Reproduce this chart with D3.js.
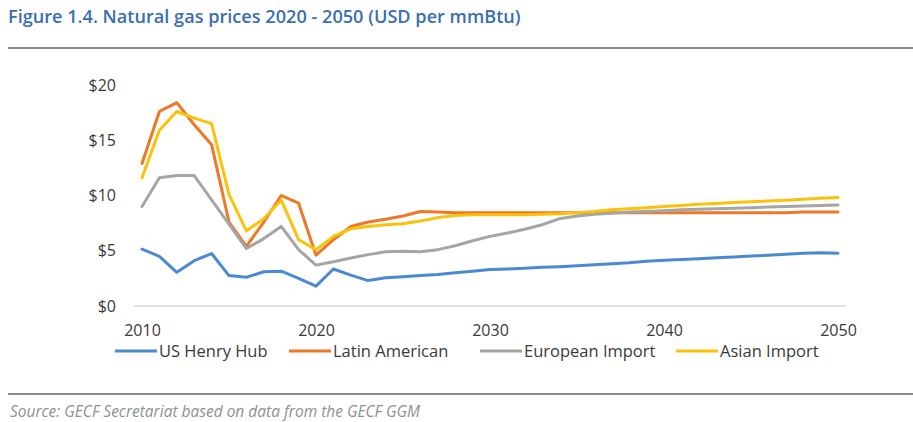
<!DOCTYPE html>
<html>
<head>
<meta charset="utf-8">
<script src="https://cdn.jsdelivr.net/npm/d3@7"></script>
<style>
  html, body { margin: 0; padding: 0; background: #fff; }
  svg { display: block; }
</style>
</head>
<body>
<svg id="chart" width="913" height="422"></svg>
<script>
// Natural gas price outlook, USD per mmBtu, yearly 2010-2050
const years = d3.range(2010, 2051);

const usHenryHub = [
  5.15, 4.5, 3.05, 4.1, 4.75, 2.75, 2.6, 3.1, 3.15, 2.5,
  1.8, 3.35, 2.8, 2.3, 2.55, 2.65, 2.75, 2.85, 3.0, 3.15,
  3.3, 3.35, 3.42, 3.5, 3.56, 3.65, 3.74, 3.83, 3.92, 4.05,
  4.15, 4.2, 4.28, 4.36, 4.44, 4.52, 4.6, 4.68, 4.78, 4.82, 4.78
];
const latinAmerican = [
  12.9, 17.6, 18.4, 16.4, 14.6, 7.6, 5.4, 7.6, 10.0, 9.3,
  4.6, 6.0, 7.2, 7.6, 7.85, 8.15, 8.55, 8.5, 8.45, 8.45,
  8.45, 8.45, 8.45, 8.45, 8.45, 8.45, 8.45, 8.45, 8.45, 8.45,
  8.45, 8.45, 8.45, 8.45, 8.45, 8.45, 8.45, 8.45, 8.5, 8.5, 8.5
];
const europeanImport = [
  9.0, 11.6, 11.8, 11.8, 9.6, 7.4, 5.2, 6.1, 7.2, 5.1,
  3.7, 4.0, 4.35, 4.65, 4.9, 4.95, 4.9, 5.1, 5.45, 5.9,
  6.3, 6.6, 6.95, 7.35, 7.9, 8.15, 8.3, 8.4, 8.5, 8.55,
  8.62, 8.7, 8.75, 8.8, 8.85, 8.9, 8.95, 9.0, 9.05, 9.1, 9.15
];
const asianImport = [
  11.6, 15.9, 17.6, 17.0, 16.5, 10.1, 6.8, 7.9, 9.6, 6.0,
  5.1, 6.3, 7.0, 7.2, 7.35, 7.45, 7.7, 8.0, 8.2, 8.25,
  8.25, 8.25, 8.25, 8.3, 8.35, 8.45, 8.55, 8.7, 8.8, 8.9,
  9.0, 9.1, 9.2, 9.28, 9.36, 9.44, 9.5, 9.58, 9.66, 9.75, 9.82
];

const seriesNames = ["US Henry Hub", "Latin American", "European Import", "Asian Import"];
const seriesValues = [usHenryHub, latinAmerican, europeanImport, asianImport];
const seriesColors = ["#4a8ad4", "#ee7728", "#a5a5a5", "#fcc20a"];

const yTicks = [0, 5, 10, 15, 20];
const xTicks = [2010, 2020, 2030, 2040, 2050];

const titleText = "Figure 1.4. Natural gas prices 2020 - 2050 (USD per mmBtu)";
const sourceText = "Source: GECF Secretariat based on data from the GECF GGM";

const svg = d3.select("#chart");
const FONT = "'Open Sans', 'DejaVu Sans', sans-serif";
const LABEL = "#3a3a3a";

// fit a text element to a target width by adjusting its font size
function fitWidth(sel, target) {
  const node = sel.node();
  const fs = parseFloat(sel.attr("font-size"));
  const w = node.getComputedTextLength();
  if (w > 0) sel.attr("font-size", (fs * target / w).toFixed(2));
}

// header
const title = svg.append("text")
  .attr("x", 8).attr("y", 23)
  .attr("font-family", FONT).attr("font-weight", 600)
  .attr("font-size", 15).attr("fill", "#3a6eb0")
  .text(titleText);
fitWidth(title, 513);

svg.append("line")
  .attr("x1", 8).attr("x2", 913).attr("y1", 48).attr("y2", 48)
  .attr("stroke", "#8c8c8c").attr("stroke-width", 2);

// scales
const x = d3.scaleLinear().domain([2010, 2050]).range([142, 838]);
const y = d3.scaleLinear().domain([0, 20]).range([306, 85]);

// baseline
svg.append("line")
  .attr("x1", x(2010) - 8).attr("x2", x(2050) + 8)
  .attr("y1", y(0)).attr("y2", y(0))
  .attr("stroke", "#d9d9d9").attr("stroke-width", 1.5);

// y axis
const yAxis = svg.append("g")
  .attr("transform", "translate(118,0)")
  .call(d3.axisLeft(y).tickValues(yTicks).tickSize(0).tickPadding(2).tickFormat(d => "$" + d));
yAxis.select(".domain").remove();
yAxis.selectAll("text")
  .attr("font-family", FONT).attr("font-size", 16).attr("font-weight", 500).attr("fill", LABEL);

// x axis
const xAxis = svg.append("g")
  .attr("transform", `translate(0,${y(0)})`)
  .call(d3.axisBottom(x).tickValues(xTicks).tickSize(0).tickPadding(19).tickFormat(d3.format("d")));
xAxis.select(".domain").remove();
xAxis.selectAll("text")
  .attr("font-family", FONT).attr("font-size", 16).attr("font-weight", 500).attr("fill", LABEL);

// series lines
const line = d3.line()
  .x((d, i) => x(years[i]))
  .y(d => y(d));

seriesValues.forEach((vals, k) => {
  svg.append("path")
    .datum(vals)
    .attr("d", line)
    .attr("fill", "none")
    .attr("stroke", seriesColors[k])
    .attr("stroke-width", 3)
    .attr("stroke-linejoin", "round")
    .attr("stroke-linecap", "round");
});

// legend
const legendX = [115, 289, 480, 676];
const legendY = 351;
seriesNames.forEach((name, k) => {
  const g = svg.append("g").attr("transform", `translate(${legendX[k]},${legendY})`);
  g.append("line")
    .attr("x1", 0).attr("x2", 42).attr("y1", 0).attr("y2", 0)
    .attr("stroke", seriesColors[k]).attr("stroke-width", 3);
  g.append("text")
    .attr("x", 44).attr("y", 0).attr("dy", "0.35em")
    .attr("font-family", FONT).attr("font-size", 16.5).attr("font-weight", 500).attr("fill", LABEL)
    .text(name);
});

// footer
svg.append("line")
  .attr("x1", 8).attr("x2", 913).attr("y1", 394).attr("y2", 394)
  .attr("stroke", "#8c8c8c").attr("stroke-width", 2);

const source = svg.append("text")
  .attr("x", 10).attr("y", 417)
  .attr("font-family", FONT).attr("font-style", "italic")
  .attr("font-size", 12).attr("fill", "#8f8f8f")
  .text(sourceText);
fitWidth(source, 410);
</script>
</body>
</html>
